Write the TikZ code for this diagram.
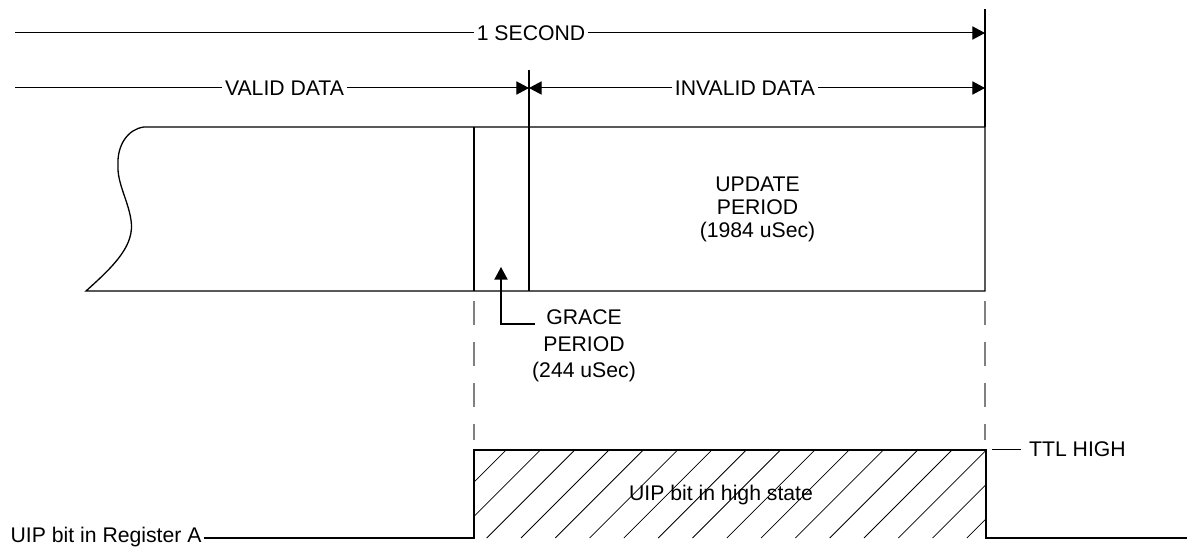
\documentclass[tikz,border=0pt]{standalone}
\usepackage{fontspec}
\setmainfont{Liberation Sans}
\usetikzlibrary{arrows.meta}

\begin{document}
\begin{tikzpicture}[x=0.5pt,y=-0.5pt,line width=0.65pt,
    >={Triangle[length=6.3pt,width=6.6pt]},
    lbl/.style={inner sep=1pt,font=\fontsize{10.6}{11.65}\selectfont},
    dim/.style={line width=0.5pt},
    guide/.style={gray,line width=0.6pt,dash pattern=on 12pt off 8.5pt},
    hatch/.style={line width=0.4pt}]

  \useasboundingbox (0,0) rectangle (1187,550);

  % dimension lines
  \coordinate (secL) at (15,33);
  \coordinate (secR) at (985,33);
  \coordinate (endT) at (985,9);
  \coordinate (valL) at (15,88);
  \coordinate (grR) at (529,88);
  \coordinate (endR) at (985,88);
  \coordinate (midT) at (529,70);
  \node[lbl] (sec) at (531,33) {1 SECOND};
  \node[lbl] (valid) at (284.5,88) {VALID DATA};
  \node[lbl] (invalid) at (745,88) {INVALID DATA};

  \draw[dim] (secL) -- (sec.west);
  \draw[dim,->] (sec.east) -- (secR);
  \draw[dim] (valL) -- (valid.west);
  \draw[dim,->] (valid.east) -- (grR);
  \draw[dim,->] (invalid.west) -- (grR);
  \draw[dim,->] (invalid.east) -- (endR);
  \draw (endT) -- (985,127);
  \draw (midT) -- (529,291);

  % register contents
  \coordinate (bTL) at (144,127);
  \coordinate (bBL) at (86,291);
  \draw (bTL) -- (985,127) -- (985,291) -- (bBL)
    .. controls (115,265) and (135,245) .. (131,220)
    .. controls (128,200) and (117,183) .. (118,165)
    .. controls (117,145) and (128,129) .. (bTL);
  \draw (474,127) -- (474,291);

  \node[lbl,align=center] (upd) at (757.5,209.5) {UPDATE\\PERIOD\\(1984 uSec)};
  \node[lbl,align=center,font=\fontsize{10.6}{13.25}\selectfont] (grace) at (584,346)
    {GRACE\\PERIOD\\(244 uSec)};
  \coordinate (gTip) at (501,267);
  \coordinate (gFoot) at (535,324);
  \draw[->] (gFoot) -| (gTip);

  \draw[guide] (474,301) -- (474,440);
  \draw[guide] (985,301) -- (985,440);

  % UIP waveform
  \begin{scope}
    \clip (474,450) rectangle (986,538);
    \foreach \k in {-3,...,15}
      \draw[hatch] ({486.7+34.3*\k},538) -- ++(88,-88);
  \end{scope}
  \node[lbl,anchor=west] (reg) at (8,537) {UIP bit in Register A};
  \coordinate (up0) at (474,538);
  \coordinate (up1) at (474,450);
  \coordinate (dn0) at (986,450);
  \coordinate (dn1) at (986,538);
  \coordinate (lowR) at (1187,538);
  \draw (reg.east |- up0) -- (up0) -- (up1) -- (dn0) -- (dn1) -- (lowR);
  \node[lbl] (uip) at (721,495.5) {UIP bit in high state};

  \coordinate (ttl0) at (992,449);
  \node[lbl,anchor=west,inner xsep=4pt] (ttl) at (1020.5,449) {TTL HIGH};
  \draw[dim] (ttl0) -- (ttl.west);

\end{tikzpicture}
\end{document}
